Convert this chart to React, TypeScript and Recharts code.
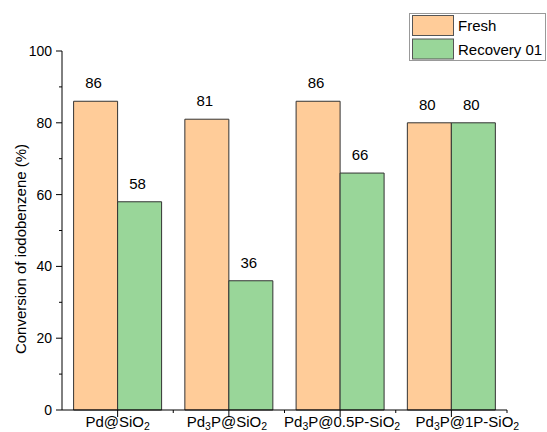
import React from "react";
import { BarChart, Bar, XAxis, YAxis, LabelList } from "recharts";

const categories = ["Pd@SiO2", "Pd3P@SiO2", "Pd3P@0.5P-SiO2", "Pd3P@1P-SiO2"];
const fresh = [86, 81, 86, 80];
const recovery = [58, 36, 66, 80];
const yTicks = [0, 10, 20, 30, 40, 50, 60, 70, 80, 90, 100];
const seriesNames = ["Fresh", "Recovery 01"];

const FONT = "'Liberation Sans', Arial, Helvetica, sans-serif";
const FRESH_COLOR = "#FFCC99";
const REC_COLOR = "#99D699";
const W = 547;
const H = 432;
const MARGIN = { top: 51, right: 40, bottom: 0, left: 0 };
const Y_WIDTH = 62;
const BAND = (W - Y_WIDTH - MARGIN.right) / categories.length;
// the original tick labels are not all centred on their ticks
const LABEL_NUDGE = [0, -2, 2, 16];

const data = categories.map((name, i) => ({
  name,
  fresh: fresh[i],
  recovery: recovery[i],
}));

// split "Pd3P@SiO2" into pieces, digits right after a letter become subscripts
function splitFormula(s: string) {
  const parts: { t: string; sub: boolean }[] = [];
  for (let i = 0; i < s.length; i++) {
    const c = s[i];
    const sub = /\d/.test(c) && i > 0 && /[A-Za-z]/.test(s[i - 1]);
    const last = parts[parts.length - 1];
    if (last && last.sub === sub && !sub) last.t += c;
    else parts.push({ t: c, sub });
  }
  return parts;
}

function YTick(props: any) {
  const { x, y, payload } = props;
  const ax = x + 8;
  const major = payload.value % 20 === 0;
  return (
    <g>
      <line x1={ax} x2={ax - (major ? 6 : 3)} y1={y} y2={y} stroke="#000" strokeWidth={1} />
      {major && (
        <text x={ax - 10} y={y} dy="0.36em" textAnchor="end" fontSize={14} fontFamily={FONT} fill="#000">
          {payload.value}
        </text>
      )}
    </g>
  );
}

function XTick(props: any) {
  const { x, y, payload, index } = props;
  const ay = y - 8;
  const parts = splitFormula(String(payload.value));
  let shift = 0;
  return (
    <g>
      <line x1={x} x2={x} y1={ay} y2={ay + 7} stroke="#000" />
      <line x1={x + BAND / 2} x2={x + BAND / 2} y1={ay} y2={ay + 3} stroke="#000" />
      <text
        x={x + (LABEL_NUDGE[index] ?? 0)}
        y={ay + 17}
        textAnchor="middle"
        fontSize={15}
        fontFamily={FONT}
        fill="#000"
      >
        {parts.map((p, i) => {
          const target = p.sub ? 3 : 0;
          const dy = target - shift;
          shift = target;
          return (
            <tspan key={i} dy={dy} fontSize={p.sub ? 10.5 : 15}>
              {p.t}
            </tspan>
          );
        })}
      </text>
    </g>
  );
}

function YLabel() {
  return (
    <text
      x={26}
      y={249}
      transform="rotate(-90, 26, 249)"
      textAnchor="middle"
      fontSize={15}
      fontFamily={FONT}
      fill="#000"
    >
      Conversion of iodobenzene (%)
    </text>
  );
}

function LegendBox() {
  const colors = [FRESH_COLOR, REC_COLOR];
  return (
    <svg width={137} height={49} style={{ display: "block" }}>
      <rect x={0.5} y={0.5} width={136} height={47} fill="#fff" stroke="#999" />
      {seriesNames.map((n, i) => (
        <g key={n}>
          <rect x={3.5} y={2.5 + i * 23.5} width={41} height={20} fill={colors[i]} stroke="#555" />
          <text x={49} y={18 + i * 23.5} fontSize={15} fontFamily={FONT} fill="#000">
            {n}
          </text>
        </g>
      ))}
    </svg>
  );
}

export default function App() {
  return (
    <div style={{ position: "absolute", left: 0, top: 0, width: W, height: H, background: "#fff" }}>
      <BarChart width={W} height={H} data={data} margin={MARGIN} barCategoryGap={11.6} barGap={0}>
        <XAxis
          dataKey="name"
          height={H - MARGIN.top - 359}
          interval={0}
          tickLine={false}
          tickSize={6}
          tickMargin={2}
          axisLine={{ stroke: "#000" }}
          tick={<XTick />}
        />
        <YAxis
          domain={[0, 100]}
          ticks={yTicks}
          interval={0}
          width={Y_WIDTH}
          tickLine={false}
          tickSize={6}
          tickMargin={2}
          axisLine={{ stroke: "#000" }}
          tick={<YTick />}
          label={{ content: () => <YLabel /> }}
        />
        <Bar dataKey="fresh" name={seriesNames[0]} fill={FRESH_COLOR} stroke="#333" strokeWidth={1} isAnimationActive={false}>
          <LabelList dataKey="fresh" position="top" offset={13} dx={-2} fontSize={15} fontFamily={FONT} fill="#000" />
        </Bar>
        <Bar dataKey="recovery" name={seriesNames[1]} fill={REC_COLOR} stroke="#333" strokeWidth={1} isAnimationActive={false}>
          <LabelList dataKey="recovery" position="top" offset={13} dx={-2} fontSize={15} fontFamily={FONT} fill="#000" />
        </Bar>
      </BarChart>
      <div style={{ position: "absolute", left: 409, top: 13 }}>
        <LegendBox />
      </div>
    </div>
  );
}
